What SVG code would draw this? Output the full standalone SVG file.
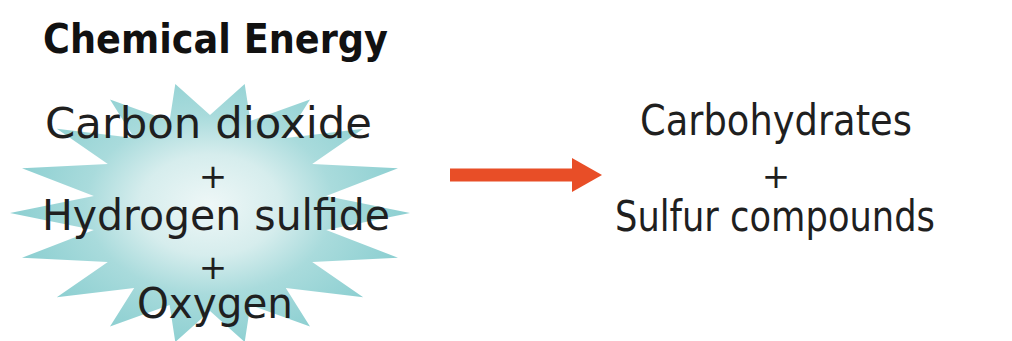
<svg xmlns="http://www.w3.org/2000/svg" width="1012" height="341" viewBox="0 0 1012 341">
  <defs>
    <radialGradient id="burstFill" gradientUnits="userSpaceOnUse" cx="210" cy="205" r="200" gradientTransform="translate(0 205) scale(1 0.72) translate(0 -205)">
      <stop offset="0" stop-color="#eef7f7"/>
      <stop offset="0.35" stop-color="#d6eded"/>
      <stop offset="0.62" stop-color="#a9dbdc"/>
      <stop offset="1" stop-color="#8ccfd1"/>
    </radialGradient>
    <filter id="soft" x="-5%" y="-5%" width="110%" height="110%">
      <feGaussianBlur stdDeviation="0.7"/>
    </filter>
  </defs>
  <style>
    .label { font-family: "DejaVu Sans", "Liberation Sans", sans-serif; font-size: 42px; fill: #1f1f1f; }
    .plus { font-family: "DejaVu Sans", "Liberation Sans", sans-serif; font-size: 34px; fill: #1f1f1f; text-anchor: middle; }
    .title { font-family: "DejaVu Sans", "Liberation Sans", sans-serif; font-size: 41px; font-weight: bold; fill: #111; }
    .arrow { fill: #e84e27; }
  </style>

  <rect width="1012" height="341" fill="#ffffff"/>

  <!-- reactants: 18-point starburst with its labels -->
  <g id="reactants">
    <polygon filter="url(#soft)" fill="url(#burstFill)" points="
      410,213 326.2,230 398,257.8 312.2,262 363.2,297.2 285.8,288.1 310,326.4 250.4,305.1 244.7,342 210,311 175.3,342 169.6,305.1 110,326.4 134.2,288.1 56.8,297.2 107.8,262 22,257.8 93.8,230 10,213 93.8,196 22,168.2 107.8,164 56.8,128.8 134.2,137.9 110,99.6 169.6,120.9 175.3,84 210,115 244.7,84 250.4,120.9 310,99.6 285.8,137.9 363.2,128.8 312.2,164 398,168.2 326.2,196"/>
    <text class="title" x="43" y="53" textLength="345" lengthAdjust="spacingAndGlyphs">Chemical Energy</text>
    <text class="label" x="45" y="138" textLength="327" lengthAdjust="spacingAndGlyphs">Carbon dioxide</text>
    <text class="plus" x="213" y="188">+</text>
    <text class="label" x="42" y="230" textLength="348" lengthAdjust="spacingAndGlyphs">Hydrogen sulfide</text>
    <text class="plus" x="213" y="279">+</text>
    <text class="label" x="137" y="318" textLength="156" lengthAdjust="spacingAndGlyphs">Oxygen</text>
  </g>

  <!-- products -->
  <g id="products">
    <text class="label" x="640" y="135" textLength="272" lengthAdjust="spacingAndGlyphs">Carbohydrates</text>
    <text class="plus" x="776" y="188">+</text>
    <text class="label" x="615" y="231" textLength="320" lengthAdjust="spacingAndGlyphs">Sulfur compounds</text>
  </g>

  <!-- reaction arrow -->
  <g id="connectors">
    <g class="arrow">
      <rect x="450" y="168.5" width="124" height="13"/>
      <polygon points="572,158 602,175 572,192"/>
    </g>
  </g>
</svg>
